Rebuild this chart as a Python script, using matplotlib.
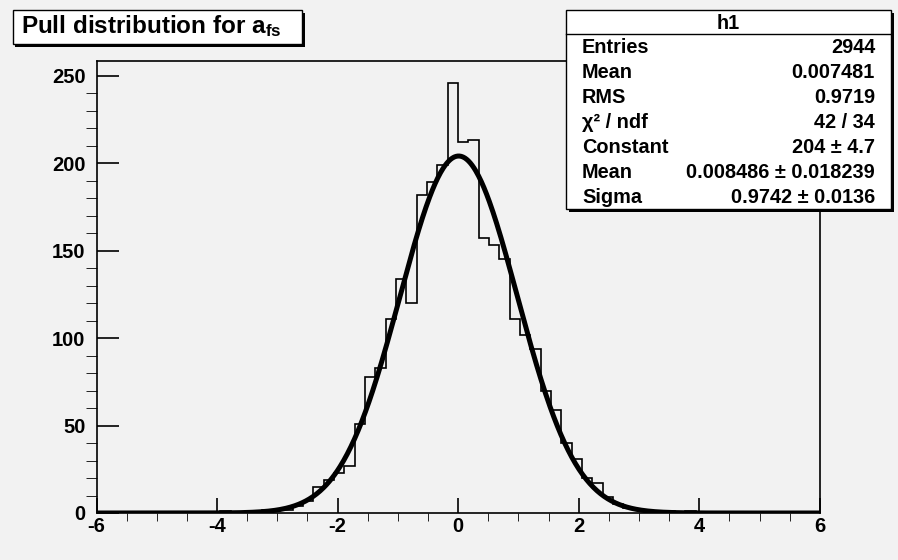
import numpy as np
import matplotlib
matplotlib.use('Agg')
import matplotlib.pyplot as plt
from matplotlib.patches import Rectangle

plt.rcParams['font.family'] = ['Liberation Sans', 'DejaVu Sans']
plt.rcParams['font.weight'] = 'bold'
plt.rcParams['axes.unicode_minus'] = False
plt.rcParams['mathtext.fontset'] = 'custom'
plt.rcParams['mathtext.rm'] = 'Liberation Sans'
plt.rcParams['mathtext.it'] = 'Liberation Sans:italic'
plt.rcParams['mathtext.bf'] = 'Liberation Sans:bold'

# histogram h1: 70 bins between -6 and 6
x_low, x_high, n_bins = -6.0, 6.0, 70
counts = ([0] * 12 + [1] + [0] * 3 +
          [2, 2, 2, 4, 7, 15, 19, 23, 27, 51, 78, 83, 111, 134, 120, 182, 189, 199, 246, 212,
           213, 157, 153, 145, 111, 102, 94, 70, 59, 40, 31, 20, 17, 9, 5, 3, 2, 1, 0, 1, 0, 1] +
          [0] * 12)

# gaussian fit parameters
fit_const = 204.0
fit_mean = 0.008486
fit_sigma = 0.9742

title = 'Pull distribution for a$_{\\mathbf{fs}}$'
stat_title = 'h1'
stat_names = ['Entries', 'Mean', 'RMS', '\u03c7\u00b2 / ndf', 'Constant', 'Mean', 'Sigma']
stat_values = ['2944', '0.007481', '0.9719', '42 / 34', '204 \u00b1 4.7',
               '0.008486 \u00b1 0.018239', '0.9742 \u00b1 0.0136']

W, H = 898, 560
bg = '#f2f2f2'


def fx(px):
    return px / W


def fy(py):
    return 1 - py / H


fig = plt.figure(figsize=(W / 100, H / 100), dpi=100, facecolor=bg)
ax = fig.add_axes([fx(96.5), fy(513), (819.8 - 96.5) / W, (513 - 61) / H])
ax.set_facecolor(bg)

edges = np.linspace(x_low, x_high, n_bins + 1)
ax.stairs(counts, edges, color='black', lw=1.2, zorder=2)

xs = np.linspace(x_low, x_high, 800)
ax.plot(xs, fit_const * np.exp(-0.5 * ((xs - fit_mean) / fit_sigma) ** 2),
        color='black', lw=3.6, zorder=3)

ax.set_xlim(x_low, x_high)
ax.set_ylim(0, 1.05 * max(counts))
ax.set_xticks(np.arange(-6, 7, 2))
ax.set_xticks(np.arange(-6, 6.01, 0.5), minor=True)
ax.set_yticks(np.arange(0, 251, 50))
ax.set_yticks(np.arange(0, 251, 10), minor=True)
ax.tick_params(direction='in', labelsize=14.5, width=1.2, top=False, right=False)
ax.tick_params(axis='x', which='major', length=10.5, pad=3)
ax.tick_params(axis='x', which='minor', length=5.5)
ax.tick_params(axis='y', which='major', length=16, pad=8)
ax.tick_params(axis='y', which='minor', length=8)
for lab in ax.get_xticklabels() + ax.get_yticklabels():
    lab.set_fontweight('bold')
for s in ax.spines.values():
    s.set_linewidth(1.2)


def box(x0, y0, x1, y1):
    fig.add_artist(Rectangle((fx(x0 + 3), fy(y1 + 3)), (x1 - x0) / W, (y1 - y0) / H,
                             transform=fig.transFigure, facecolor='black', edgecolor='none', zorder=5))
    fig.add_artist(Rectangle((fx(x0), fy(y1)), (x1 - x0) / W, (y1 - y0) / H,
                             transform=fig.transFigure, facecolor='white', edgecolor='black',
                             lw=1.0, zorder=6))


# title box
box(12.5, 9.5, 302, 44)
fig.text(fx(21), fy(33), title, fontsize=17.5, fontweight='bold', va='baseline', zorder=7)

# stats box
sx0, sy0, sx1, sy1 = 566, 9.5, 891, 209
box(sx0, sy0, sx1, sy1)
row_h = (sy1 - sy0) / (len(stat_names) + 1)
fig.add_artist(plt.Line2D([fx(sx0), fx(sx1)], [fy(sy0 + row_h), fy(sy0 + row_h)],
                          transform=fig.transFigure, color='black', lw=1.0, zorder=7))
fig.text(fx((sx0 + sx1) / 2), fy(sy0 + row_h / 2 + 1.5), stat_title, fontsize=14.3,
         fontweight='bold', ha='center', va='center', zorder=7)
for i, (name, val) in enumerate(zip(stat_names, stat_values)):
    yc = sy0 + row_h * (i + 1.5) + 1
    fig.text(fx(582), fy(yc), name, fontsize=14.3, fontweight='bold', va='center', zorder=7)
    fig.text(fx(875), fy(yc), val, fontsize=14.3, fontweight='bold', ha='right', va='center', zorder=7)

fig.savefig('out.png', dpi=100, facecolor=bg)
